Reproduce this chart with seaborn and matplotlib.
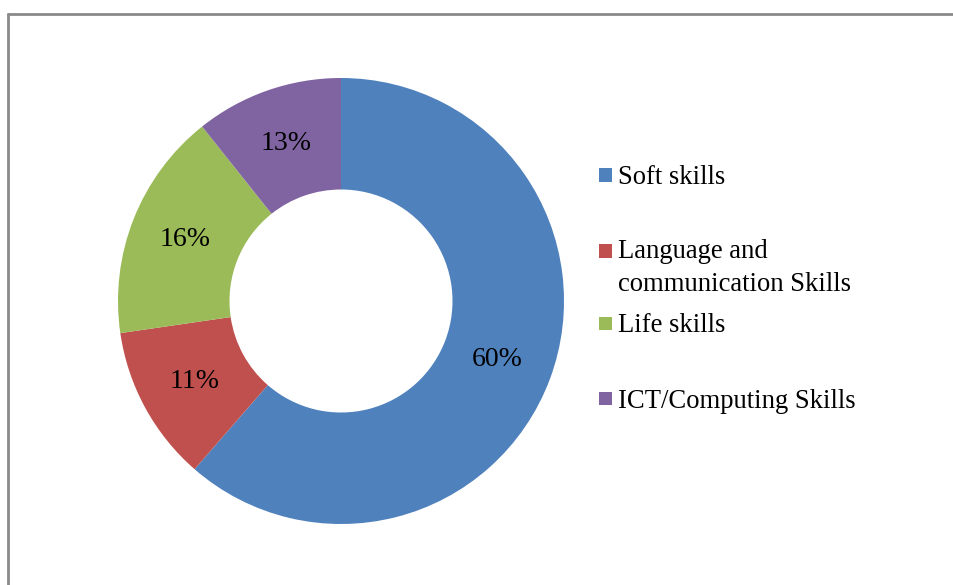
import matplotlib.pyplot as plt
import seaborn as sns
from matplotlib.patches import Rectangle
from matplotlib.lines import Line2D

# Data
categories = ['Soft skills', 'Language and\ncommunication Skills', 'Life skills', 'ICT/Computing Skills']
shares = [61.4, 11.3, 16.6, 10.7]
pct_labels = ['60%', '11%', '16%', '13%']
colors = ['#4F81BD', '#C0504D', '#9BBB59', '#8064A2']

sns.set_theme(style='white')
plt.rcParams['font.family'] = ['Liberation Serif', 'DejaVu Serif']

W, H = 954, 585
fig = plt.figure(figsize=(W / 100, H / 100), dpi=100)


def fx(x):
    return x / W


def fy(y):
    return 1 - y / H


# Donut
ax = fig.add_axes([fx(118), fy(524), 446 / W, 446 / H])
lab = iter(pct_labels)
wedges, _, autotexts = ax.pie(shares, colors=colors, startangle=90, counterclock=False,
                              radius=1, wedgeprops=dict(width=0.5, edgecolor='none'),
                              autopct=lambda p: next(lab), pctdistance=0.75,
                              textprops=dict(fontsize=20, color='black'))
ax.set_xlim(-1, 1)
ax.set_ylim(-1, 1)
ax.axis('off')

# Legend (Excel style, drawn by hand)
marker_y = [175, 251, 323.5, 398.5]
text_y = [178, 268, 326, 401]
for cat, col, my, ty in zip(categories, colors, marker_y, text_y):
    fig.add_artist(Rectangle((fx(599), fy(my + 6.5)), 13 / W, 13 / H,
                             transform=fig.transFigure, facecolor=col, edgecolor='none'))
    fig.text(fx(618), fy(ty), cat, fontsize=19.2, va='center', ha='left',
             linespacing=1.38, color='black')

# Chart frame (extends past the image edges)
frame_col = '#8a8a8a'
fig.add_artist(Line2D([fx(8.5), fx(8.5)], [fy(14), 0], transform=fig.transFigure,
                      color=frame_col, linewidth=2))
fig.add_artist(Line2D([fx(8.5), 1], [fy(14), fy(14)], transform=fig.transFigure,
                      color=frame_col, linewidth=2))

fig.savefig('out.png', dpi=100)
